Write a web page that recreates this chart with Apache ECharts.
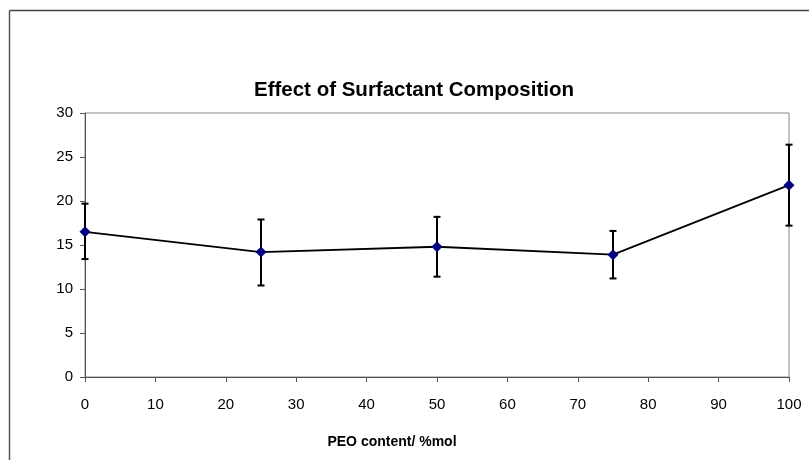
<!DOCTYPE html>
<html>
<head>
<meta charset="utf-8">
<script src="https://cdn.jsdelivr.net/npm/echarts@6/dist/echarts.min.js"></script>
<style>
    html, body { margin: 0; padding: 0; background: #fff; }
    #chart { width: 809px; height: 460px; }
</style>
</head>
<body>
<div id="chart"></div>
<script>
// PEO content (%mol) and measured values with error bar ends
var peoContent = [0, 25, 50, 75, 100];
var meanValues = [16.5, 14.2, 14.8, 13.9, 21.8];
var lowValues = [13.4, 10.4, 11.4, 11.2, 17.2];
var highValues = [19.7, 17.9, 18.2, 16.6, 26.4];
var xTicks = [0, 10, 20, 30, 40, 50, 60, 70, 80, 90, 100];
var yTicks = [0, 5, 10, 15, 20, 25, 30];

var FONT = "'Liberation Sans', Arial, sans-serif";

var chart = echarts.init(document.getElementById('chart'), null, { renderer : 'canvas' });

var lineData = [];
var errData = [];
for (var i = 0; i < peoContent.length; i++) {
    lineData.push([peoContent[i], meanValues[i]]);
    errData.push([peoContent[i], lowValues[i], highValues[i]]);
}

var option = {
    backgroundColor : '#fff',
    animation : false,
    title : {
        text : 'Effect of Surfactant Composition',
        left : 409,
        textAlign : 'center',
        top : 75,
        textStyle : {
            fontFamily : FONT,
            fontSize : 20.5,
            fontWeight : 'bold',
            color : '#000'
        }
    },
    graphic : [ {
        type : 'line',
        shape : { x1 : 9.5, y1 : 10.5, x2 : 809, y2 : 10.5 },
        style : { stroke : '#444', lineWidth : 1.5 }
    }, {
        type : 'line',
        shape : { x1 : 9.5, y1 : 10.5, x2 : 9.5, y2 : 460 },
        style : { stroke : '#555', lineWidth : 1.5 }
    }, {
        type : 'text',
        style : {
            text : 'PEO content/ %mol',
            x : 392,
            y : 442.5,
            align : 'center',
            verticalAlign : 'middle',
            font : 'bold 14px ' + FONT,
            fill : '#000'
        }
    } ],
    grid : {
        left : 85,
        right : 20,
        top : 113,
        bottom : 83,
        show : true,
        borderColor : '#888',
        borderWidth : 1,
        containLabel : false
    },
    xAxis : {
        type : 'value',
        min : xTicks[0],
        max : xTicks[xTicks.length - 1],
        interval : 10,
        splitLine : { show : false },
        axisLine : { lineStyle : { color : '#555', width : 1 } },
        axisTick : { length : 5, lineStyle : { color : '#555' } },
        axisLabel : {
            margin : 20,
            fontFamily : FONT,
            fontSize : 15,
            color : '#000'
        }
    },
    yAxis : {
        type : 'value',
        min : yTicks[0],
        max : yTicks[yTicks.length - 1],
        interval : 5,
        splitLine : { show : false },
        axisLine : { show : true, lineStyle : { color : '#555', width : 1 } },
        axisTick : { show : true, length : 5, lineStyle : { color : '#555' } },
        axisLabel : {
            margin : 12,
            fontFamily : FONT,
            fontSize : 15,
            color : '#000'
        }
    },
    series : [ {
        name : 'error',
        type : 'custom',
        z : 3,
        renderItem : function(params, api) {
            var x = api.value(0);
            var lo = api.coord([x, api.value(1)]);
            var hi = api.coord([x, api.value(2)]);
            var half = 3.5;
            var st = { stroke : '#000', lineWidth : 2 };
            return {
                type : 'group',
                children : [ {
                    type : 'line',
                    shape : { x1 : lo[0], y1 : lo[1], x2 : hi[0], y2 : hi[1] },
                    style : st
                }, {
                    type : 'line',
                    shape : { x1 : hi[0] - half, y1 : hi[1], x2 : hi[0] + half, y2 : hi[1] },
                    style : st
                }, {
                    type : 'line',
                    shape : { x1 : lo[0] - half, y1 : lo[1], x2 : lo[0] + half, y2 : lo[1] },
                    style : st
                } ]
            };
        },
        encode : { x : 0, y : [ 1, 2 ] },
        data : errData
    }, {
        name : 'value',
        type : 'line',
        z : 4,
        data : lineData,
        symbol : 'diamond',
        symbolSize : 11,
        lineStyle : { color : '#000', width : 1.8 },
        itemStyle : { color : '#000080', borderWidth : 0 }
    } ]
};
chart.setOption(option);
</script>
</body>
</html>
